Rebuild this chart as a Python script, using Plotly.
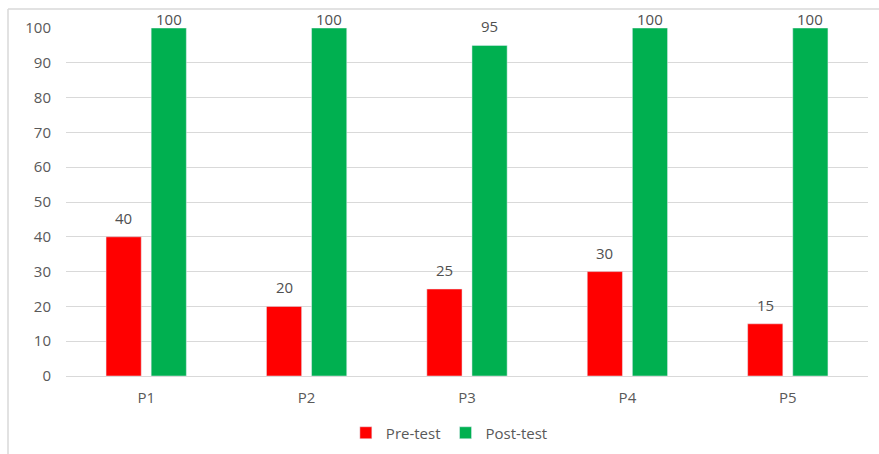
import plotly.graph_objects as go

categories = ["P1", "P2", "P3", "P4", "P5"]
pre_test = [40, 20, 25, 30, 15]
post_test = [100, 100, 95, 100, 100]
y_ticks = [0, 10, 20, 30, 40, 50, 60, 70, 80, 90, 100]

FONT = "Open Sans"
fig = go.Figure()
fig.add_trace(go.Bar(x=categories, y=pre_test, name="Pre-test", marker_color="#ff0000",
                     offsetgroup="pre"))
fig.add_trace(go.Bar(x=categories, y=post_test, name="Post-test", marker_color="#00b050",
                     offsetgroup="post"))

W, H = 879, 454
L, R, T, B = 66, 11, 28, 78
pw, ph = W - L - R, H - T - B

# data labels as annotations (so the gap above bars can be tuned)
annotations = []
cat_w = pw / len(categories)
bar_off_px = 22.5  # half slot distance from category center
for series, sign in ((pre_test, -1), (post_test, 1)):
    for c, v in zip(categories, series):
        annotations.append(dict(
            x=c, y=v, xref="x", yref="y", text=str(v), showarrow=False,
            xshift=sign * bar_off_px, yanchor="bottom",
            yshift=(7 if v < 97 else -3),
            font=dict(family=FONT, size=15, color="#505050"),
        ))

fig.update_layout(
    width=W, height=H,
    margin=dict(l=L, r=R, t=T, b=B, autoexpand=False),
    paper_bgcolor="white", plot_bgcolor="white",
    barmode="group", bargap=0.4375, bargroupgap=0.22,
    font=dict(family=FONT, color="#595959", size=15),
    showlegend=True,
    legend=dict(orientation="h", x=0.478, xanchor="center", yref="container",
                y=1 - 433 / H, yanchor="middle",
                font=dict(size=15, color="#595959"), itemwidth=30, traceorder="normal"),
    xaxis=dict(showgrid=False, showline=True, linecolor="#d9d9d9", linewidth=1,
               ticks="", ticklabelstandoff=8, tickfont=dict(size=15, color="#595959")),
    yaxis=dict(range=[0, 100], tickvals=y_ticks, showgrid=True, gridcolor="#d9d9d9",
               gridwidth=1, zeroline=False, showline=False, ticks="",
               ticklabelstandoff=14, tickfont=dict(size=15, color="#595959")),
    annotations=annotations,
    shapes=[
        dict(type="line", xref="paper", yref="paper",
             x0=(8 - L) / pw, x1=(8 - L) / pw, y0=1 + (T - 9) / ph, y1=-(B + 5) / ph,
             line=dict(color="#d9d9d9", width=1.5)),
        dict(type="line", xref="paper", yref="paper",
             x0=(8 - L) / pw, x1=1 + (R + 5) / pw, y0=1 + (T - 9) / ph, y1=1 + (T - 9) / ph,
             line=dict(color="#d9d9d9", width=1.5)),
    ],
)
fig.write_html("out.html")
